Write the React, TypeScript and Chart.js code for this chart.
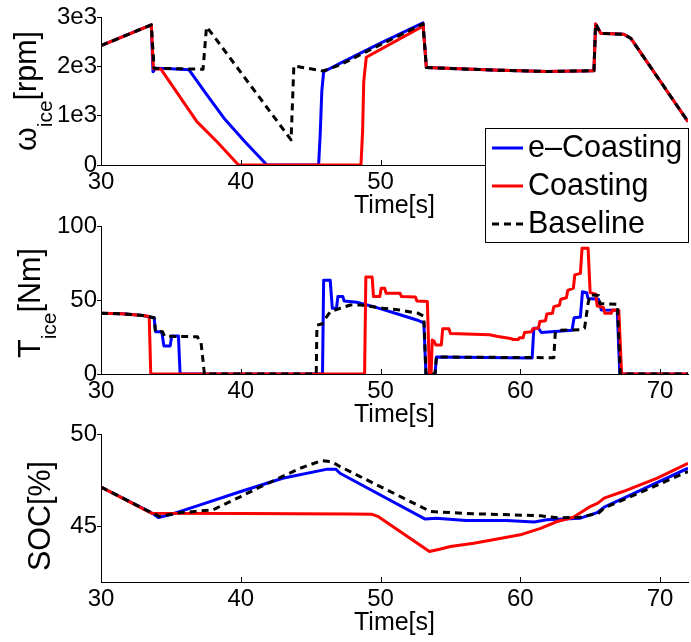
import React, { useEffect, useRef } from "react";
import { Chart, registerables } from "chart.js";

Chart.register(...registerables);

type Pt = [number, number];
const FONT = "'Liberation Sans', Arial, Helvetica, sans-serif";

// ---------- axes / labels ----------
const xMin = 30;
const xMax = 72;
const xTicks = [30, 40, 50, 60, 70];
const xTitle = "Time[s]";

const omegaTicks = [0, 1000, 2000, 3000];
const omegaTickLabels = ["0", "1e3", "2e3", "3e3"];
const torqueTicks = [0, 50, 100];
const torqueTickLabels = ["0", "50", "100"];
const socTicks = [45, 50];
const socTickLabels = ["45", "50"];

const seriesNames = ["e\u2013Coasting", "Coasting", "Baseline"];

// ---------- engine speed [rpm] ----------
const omegaTail: Pt[] = [
  [58, 1925], [61.9, 1895], [65.27, 1912], [65.39, 2860], [65.75, 2670],
  [67.4, 2650], [67.9, 2570], [69.6, 1870], [72, 880],
];
const omegaECoasting: Pt[] = [
  [30, 2420], [33.6, 2840], [33.72, 1890], [33.9, 1960], [35, 1950], [36.3, 1930],
  [37.5, 1450], [38.8, 950], [40.3, 470], [41.87, 0], [45.57, 0], [45.68, 600],
  [45.8, 1500], [45.93, 1890], [47.1, 2060], [50, 2470], [53.04, 2880], [53.28, 1975],
  ...omegaTail,
];
const omegaCoasting: Pt[] = [
  [30, 2420], [33.6, 2840], [33.75, 1950], [34.3, 1940], [35.5, 1440], [36.86, 880],
  [38.3, 470], [39.84, 0], [48.6, 0], [48.72, 700], [48.8, 1700], [48.98, 2183],
  [52.97, 2804], [53.04, 2860], [53.28, 1975],
  ...omegaTail,
];
const omegaBaseline: Pt[] = [
  [30, 2420], [33.6, 2840], [33.8, 1960], [35, 1955], [37.3, 1940], [37.55, 2800],
  [38.05, 2620], [43.6, 510], [43.8, 2010], [45.9, 1905], [47.1, 2030], [50, 2440],
  [53.04, 2860], [53.28, 1975],
  ...omegaTail,
];

// ---------- engine torque [Nm] ----------
const torqueECoasting: Pt[] = [
  [30, 41], [31.5, 40.7], [33.0, 39.5], [33.8, 38], [33.9, 28.6], [34.35, 28.6],
  [34.5, 19], [34.95, 19], [35.06, 25.7], [35.54, 25.7], [35.66, 0], [45.85, 0],
  [45.93, 63.3], [46.4, 63.3], [46.55, 44.4], [46.85, 44.4], [46.95, 52.3], [47.3, 52.3],
  [47.4, 49.3], [48.3, 48.5], [49.5, 45.5], [50.2, 43.5], [51.4, 40], [52.6, 36.5],
  [53.1, 34.5], [53.25, 0], [53.9, 0], [54.0, 11.5], [60.85, 10.8], [60.97, 30.9],
  [61.3, 31], [61.5, 28], [63.7, 29.5], [63.85, 38], [64.3, 38.5], [64.45, 55.6],
  [64.75, 55], [64.85, 51], [65.6, 50.5], [65.8, 43.2], [66.94, 43], [67.12, 0], [72, 0],
];
const torqueCoasting: Pt[] = [
  [30, 41], [31.5, 40.7], [33.0, 39.5], [33.45, 38.8], [33.56, 0], [48.86, 0],
  [48.95, 65.5], [49.4, 65.5], [49.5, 52.3], [49.95, 52.3], [50.05, 57.9], [50.3, 57.9],
  [50.4, 54.5], [51.4, 54.5], [51.5, 52.3], [52.5, 52], [52.6, 49.3], [53.35, 49],
  [53.5, 0], [53.62, 0], [53.7, 23], [53.85, 22], [53.95, 19.6], [54.35, 19.6],
  [54.45, 30.6], [54.9, 30.5], [55.0, 27.3], [57.8, 26.5], [58.3, 25.5], [59.3, 24],
  [59.5, 23.3], [59.85, 23.3], [59.95, 24.5], [60.2, 24.5], [60.3, 28], [60.8, 28.5],
  [60.9, 30.5], [61.3, 31], [61.4, 35.5], [61.8, 36], [61.9, 40.5], [62.3, 41],
  [62.4, 45.5], [62.8, 46.5], [62.9, 50.5], [63.3, 51.5], [63.4, 56.5], [63.8, 58],
  [63.9, 67], [64.3, 68], [64.42, 85], [64.85, 85], [65.0, 55], [65.4, 54],
  [65.5, 46], [65.95, 45], [66.05, 41], [66.5, 41], [66.6, 43.2], [67.05, 43],
  [67.25, 0], [72, 0],
];
const torqueBaseline: Pt[] = [
  [30, 41], [31.5, 40.7], [33.0, 39.5], [33.8, 38], [33.9, 28.6], [34.4, 28.6],
  [34.55, 25.5], [36.9, 25.2], [37.0, 23], [37.15, 22], [37.4, 0], [45.4, 0],
  [45.45, 33], [45.85, 34], [45.95, 36], [46.4, 42], [47.1, 44.4], [47.84, 46.6],
  [48.6, 46.6], [50.2, 44.4], [51.4, 43.2], [52.7, 41], [53.1, 39], [53.25, 0],
  [53.9, 0], [54.0, 11.5], [62.4, 11], [62.5, 27.5], [62.7, 29.5], [64.4, 30],
  [64.6, 31], [64.85, 47.7], [65.0, 53.4], [65.6, 53], [65.7, 47.7], [66.95, 47],
  [67.15, 0], [72, 0],
];

// ---------- state of charge [%] ----------
const socECoasting: Pt[] = [
  [30, 47.13], [33.6, 45.75], [34.1, 45.49], [35, 45.65], [37.1, 46.17], [40, 46.89],
  [43, 47.61], [46.2, 48.1], [46.8, 48.1], [47.1, 47.88], [53.2, 45.4], [54, 45.45],
  [56.1, 45.33], [59, 45.33], [61, 45.24], [61.9, 45.37], [64.3, 45.45], [65.5, 45.75],
  [66, 46.05], [67.4, 46.53], [72, 48.15],
];
const socCoasting: Pt[] = [
  [30, 47.13], [33.6, 45.72], [40, 45.7], [47.8, 45.67], [49.4, 45.66], [49.8, 45.55],
  [53.5, 43.65], [54.3, 43.78], [55, 43.92], [56.67, 44.1], [58.35, 44.32], [60, 44.55],
  [61.45, 44.9], [62.64, 45.27], [63.8, 45.5], [65.0, 46.08], [65.55, 46.26],
  [66.0, 46.53], [67.35, 46.89], [69.8, 47.61], [72, 48.42],
];
const socBaseline: Pt[] = [
  [30, 47.13], [33.6, 45.75], [34.2, 45.54], [35.6, 45.74], [38, 45.9], [40, 46.62],
  [41.2, 47.07], [44.25, 48.15], [45.8, 48.56], [46.5, 48.5], [47.1, 48.24],
  [53.57, 45.81], [56.67, 45.69], [61.45, 45.58], [62.64, 45.47], [64.3, 45.5],
  [65.6, 45.72], [66.0, 46.0], [67.4, 46.45], [72, 47.97],
];

// ---------- styling ----------
const COLORS = ["#0000ff", "#ff0000", "#000000"];
const DASHES: number[][] = [[], [], [7, 5]];
const ORDERS = [3, 2, 1];

const yLabelPlugin = {
  id: "yLabel",
  afterDraw(chart: any, _args: any, o: any) {
    if (!o || !o.main) return;
    const { ctx, chartArea } = chart;
    ctx.save();
    const mainFont = `${o.size}px ${FONT}`;
    const subFont = `${o.subSize}px ${FONT}`;
    ctx.font = mainFont;
    const w1 = ctx.measureText(o.main).width;
    const w3 = o.tail ? ctx.measureText(o.tail).width : 0;
    ctx.font = subFont;
    const w2 = o.sub ? ctx.measureText(o.sub).width : 0;
    const total = w1 + w2 + w3;
    const cy = (chartArea.top + chartArea.bottom) / 2 + (o.dy || 0);
    ctx.translate(o.x, cy);
    ctx.rotate(-Math.PI / 2);
    ctx.fillStyle = "#000";
    ctx.textAlign = "left";
    ctx.textBaseline = "alphabetic";
    let pos = -total / 2;
    ctx.font = mainFont;
    ctx.fillText(o.main, pos, 0);
    pos += w1;
    if (o.sub) {
      ctx.font = subFont;
      ctx.fillText(o.sub, pos, o.subDy);
      pos += w2;
    }
    if (o.tail) {
      ctx.font = mainFont;
      ctx.fillText(o.tail, pos, 0);
    }
    ctx.restore();
  },
};

const innerTicksPlugin = {
  id: "innerTicks",
  afterDraw(chart: any) {
    const { ctx, chartArea, scales } = chart;
    const xs = scales.x;
    ctx.save();
    ctx.strokeStyle = "#000";
    ctx.lineWidth = 1;
    xTicks.forEach((v) => {
      const px = Math.round(xs.getPixelForValue(v)) + 0.5;
      if (px <= chartArea.left + 1) return;
      ctx.beginPath();
      ctx.moveTo(px, chartArea.bottom);
      ctx.lineTo(px, chartArea.bottom - 5);
      ctx.stroke();
    });
    ctx.restore();
  },
};

const legendPlugin = {
  id: "boxLegend",
  afterDraw(chart: any, _args: any, o: any) {
    if (!o || !o.show) return;
    const { ctx, chartArea: ca } = chart;
    const w = 204;
    const h = 115;
    const x0 = ca.right + 1 - w;
    const y0 = ca.top + 111;
    ctx.save();
    ctx.fillStyle = "#fff";
    ctx.fillRect(x0, y0, w, h);
    ctx.strokeStyle = "#000";
    ctx.lineWidth = 1;
    ctx.strokeRect(x0 + 0.5, y0 + 0.5, w - 1, h - 1);
    seriesNames.forEach((name, i) => {
      const base = y0 + 29 + i * 38;
      ctx.strokeStyle = COLORS[i];
      ctx.lineWidth = 3;
      ctx.setLineDash(DASHES[i]);
      ctx.beginPath();
      ctx.moveTo(x0 + 7, base - 9);
      ctx.lineTo(x0 + 38, base - 9);
      ctx.stroke();
      ctx.setLineDash([]);
      ctx.fillStyle = "#000";
      ctx.font = `30.5px ${FONT}`;
      ctx.textAlign = "left";
      ctx.textBaseline = "alphabetic";
      ctx.fillText(name, x0 + 43, base);
    });
    ctx.restore();
  },
};

interface PanelSpec {
  series: Pt[][];
  yMin: number;
  yMax: number;
  yTicks: number[];
  yTickLabels: string[];
  padTop: number;
  padBottom: number;
  label: any;
  legend: boolean;
}

function makeConfig(p: PanelSpec): any {
  return {
    type: "line",
    data: {
      datasets: p.series.map((pts, i) => ({
        label: seriesNames[i],
        data: pts.map(([x, y]) => ({ x, y })),
        borderColor: COLORS[i],
        backgroundColor: COLORS[i],
        borderWidth: 3,
        borderDash: DASHES[i],
        borderJoinStyle: "round",
        pointRadius: 0,
        fill: false,
        tension: 0,
        order: ORDERS[i],
      })),
    },
    options: {
      animation: false,
      responsive: false,
      maintainAspectRatio: false,
      events: [],
      layout: { padding: { left: 0, right: 3, top: p.padTop, bottom: p.padBottom } },
      plugins: {
        legend: { display: false },
        tooltip: { enabled: false },
        yLabel: p.label,
        boxLegend: { show: p.legend },
      },
      scales: {
        x: {
          type: "linear",
          position: "bottom",
          min: xMin,
          max: xMax,
          afterBuildTicks: (s: any) => {
            s.ticks = xTicks.map((v) => ({ value: v }));
          },
          afterFit: (s: any) => {
            s.height = 56;
          },
          ticks: {
            font: { family: FONT, size: 24 },
            color: "#000",
            padding: 3,
            maxRotation: 0,
            autoSkip: false,
            callback: (v: any) => String(v),
          },
          grid: { display: true, drawOnChartArea: false, drawTicks: false },
          border: { display: true, color: "#000", width: 1 },
          title: {
            display: true,
            text: xTitle,
            font: { family: FONT, size: 25 },
            color: "#000",
            padding: { top: 0, bottom: 0 },
          },
        },
        y: {
          type: "linear",
          position: "left",
          min: p.yMin,
          max: p.yMax,
          afterBuildTicks: (s: any) => {
            s.ticks = p.yTicks.map((v) => ({ value: v }));
          },
          afterFit: (s: any) => {
            s.width = 101;
          },
          ticks: {
            font: { family: FONT, size: 24 },
            color: "#000",
            padding: 0,
            autoSkip: false,
            callback: (v: any) => p.yTickLabels[p.yTicks.indexOf(v)] ?? String(v),
          },
          grid: {
            display: true,
            drawOnChartArea: false,
            drawTicks: true,
            tickLength: 4,
            color: "#000",
            lineWidth: 1,
          },
          border: { display: true, color: "#000", width: 1 },
        },
      },
    },
    plugins: [yLabelPlugin, innerTicksPlugin, legendPlugin],
  };
}

function Panel(props: { top: number; height: number; z: number; spec: PanelSpec }) {
  const ref = useRef<HTMLCanvasElement>(null);
  useEffect(() => {
    const chart = new Chart(ref.current as HTMLCanvasElement, makeConfig(props.spec));
    return () => chart.destroy();
  }, []);
  return (
    <canvas
      ref={ref}
      width={691}
      height={props.height}
      style={{
        position: "absolute",
        left: 0,
        top: props.top,
        width: 691,
        height: props.height,
        zIndex: props.z,
        display: "block",
      }}
    />
  );
}

const omegaSpec: PanelSpec = {
  series: [omegaECoasting, omegaCoasting, omegaBaseline],
  yMin: 0,
  yMax: 3000,
  yTicks: omegaTicks,
  yTickLabels: omegaTickLabels,
  padTop: 17,
  padBottom: 29,
  label: { main: "\u03c9", sub: "ice", tail: "[rpm]", x: 36, subDy: 16, size: 30.5, subSize: 21, dy: 0 },
  legend: true,
};
const torqueSpec: PanelSpec = {
  series: [torqueECoasting, torqueCoasting, torqueBaseline],
  yMin: 0,
  yMax: 100,
  yTicks: torqueTicks,
  yTickLabels: torqueTickLabels,
  padTop: 26,
  padBottom: 2,
  label: { main: "T", sub: "ice", tail: "[Nm]", x: 40, subDy: 16, size: 30.5, subSize: 21, dy: 3 },
  legend: false,
};
const socSpec: PanelSpec = {
  series: [socECoasting, socCoasting, socBaseline],
  yMin: 42,
  yMax: 50,
  yTicks: socTicks,
  yTickLabels: socTickLabels,
  padTop: 34,
  padBottom: 4,
  label: { main: "SOC[%]", sub: "", tail: "", x: 50, subDy: 0, size: 30.5, subSize: 21, dy: 8 },
  legend: false,
};

export default function App() {
  return (
    <div
      style={{
        position: "absolute",
        left: 0,
        top: 0,
        width: 691,
        height: 642,
        background: "#fff",
        overflow: "hidden",
      }}
    >
      <Panel top={0} height={250} z={3} spec={omegaSpec} />
      <Panel top={200} height={232} z={2} spec={torqueSpec} />
      <Panel top={400} height={242} z={1} spec={socSpec} />
    </div>
  );
}
